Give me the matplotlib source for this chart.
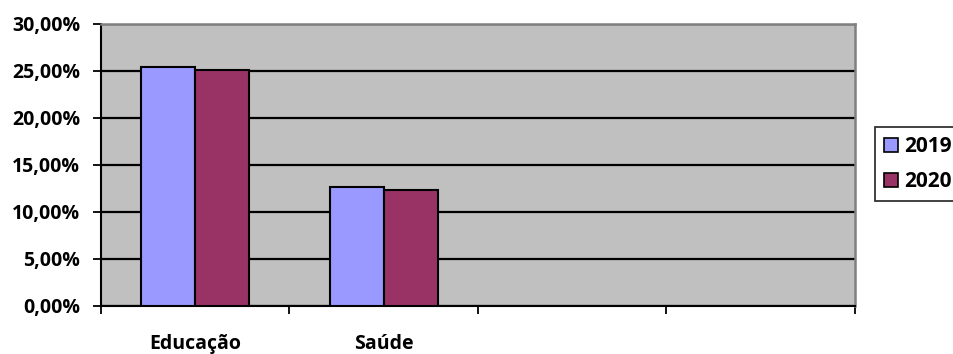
import matplotlib
matplotlib.use("Agg")
import matplotlib.pyplot as plt
import numpy as np

# Share of spending by area
categories = ["Educação", "Saúde"]
n_slots = 4
series_names = ["2019", "2020"]
values_2019 = [25.35, 12.63]
values_2020 = [25.09, 12.28]
y_ticks = [0, 5, 10, 15, 20, 25, 30]

colors = ["#9999FF", "#993366"]
font = "Open Sans"
fsize = 14

fig = plt.figure(figsize=(9.54, 3.54), dpi=100)
ax = fig.add_axes([101 / 954, 1 - 306 / 354, 754 / 954, 282.5 / 354])
ax.set_facecolor("#C0C0C0")

x = np.arange(len(categories))
w = 0.286
for i, (vals, col, name) in enumerate(zip([values_2019, values_2020], colors, series_names)):
    ax.bar(x + (i - 1) * w, vals, width=w, align="edge", color=col,
           edgecolor="black", linewidth=1.5, label=name, zorder=3)

ax.set_xlim(-0.5, n_slots - 0.5)
ax.set_ylim(0, 30)
ax.set_yticks(y_ticks)
ax.set_yticklabels([f"{v:.2f}".replace(".", ",") + "%" for v in y_ticks],
                   fontfamily=font, fontweight="bold", fontsize=fsize)
ax.yaxis.grid(True, color="black", linewidth=1.6, zorder=1)
ax.set_axisbelow(True)

ax.set_xticks(np.arange(n_slots + 1) - 0.5)
ax.set_xticklabels([])
ax.set_xticks(x, minor=True)
ax.set_xticklabels(categories, minor=True, fontfamily=font,
                   fontweight="bold", fontsize=fsize)
ax.tick_params(axis="x", which="minor", length=0, pad=20)
ax.tick_params(axis="x", which="major", length=6, width=1.3, color="black")
ax.tick_params(axis="y", length=6, width=1.3, color="black", pad=9)

for side in ["left", "bottom"]:
    ax.spines[side].set_color("black")
    ax.spines[side].set_linewidth(1.5)
for side in ["top", "right"]:
    ax.spines[side].set_color("#808080")
    ax.spines[side].set_linewidth(1.8)

leg = fig.legend(loc="upper left", bbox_to_anchor=(875 / 954, 1 - 127 / 354),
                 prop={"family": font, "weight": "bold", "size": 15},
                 frameon=True, fancybox=False, edgecolor="black",
                 handlelength=0.67, handleheight=0.67, handletextpad=0.3,
                 borderpad=0.45, labelspacing=0.65, borderaxespad=0)
leg.get_frame().set_linewidth(1.3)
for h in leg.legend_handles:
    h.set_edgecolor("black")
    h.set_linewidth(1.2)

fig.savefig("out.png", dpi=100)
